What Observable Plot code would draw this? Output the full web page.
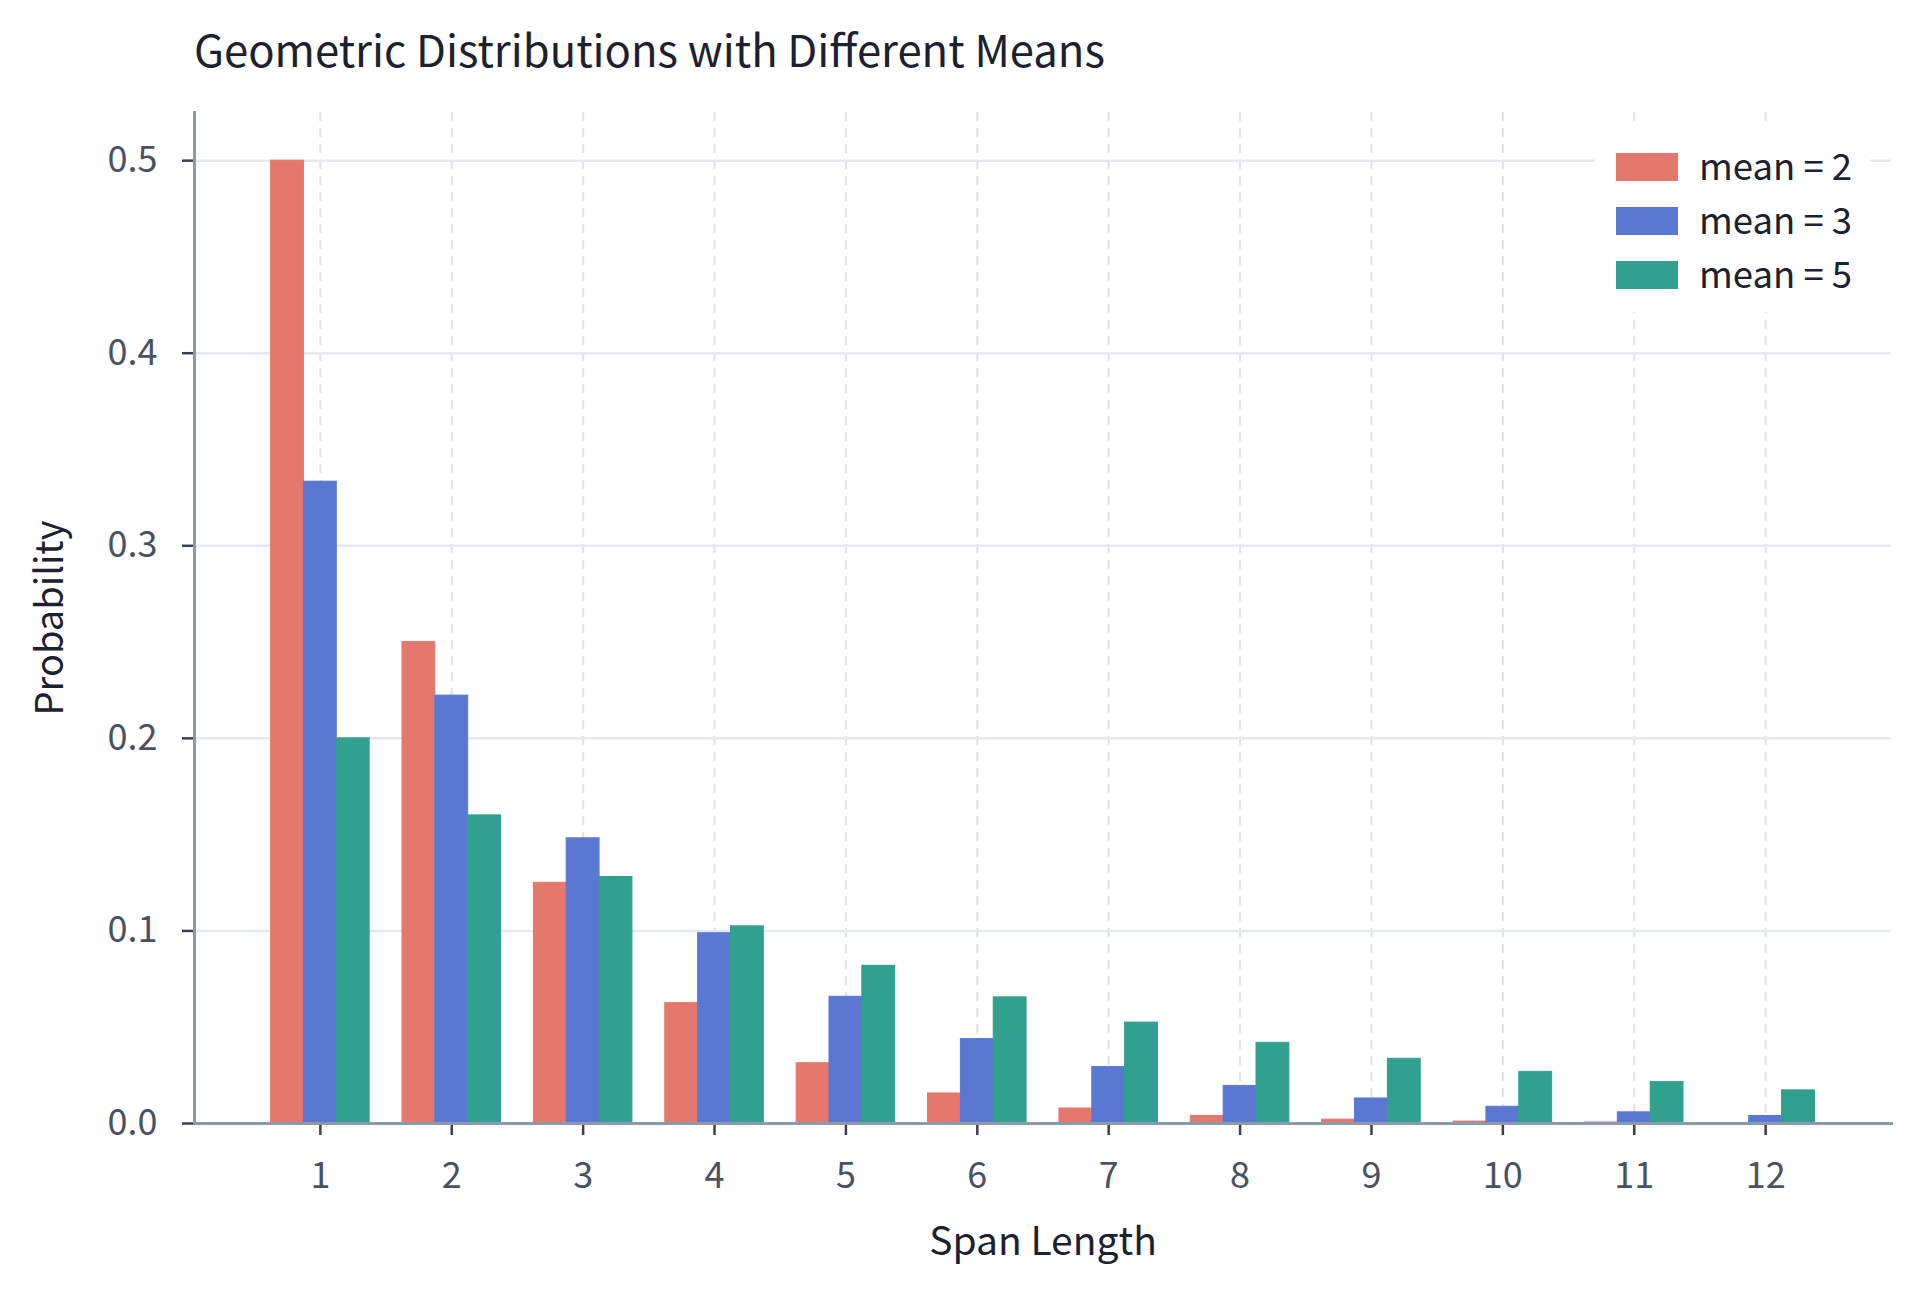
<!DOCTYPE html>
<html>
<head>
<meta charset="utf-8">
<script src="https://cdn.jsdelivr.net/npm/d3@7"></script>
<script src="https://cdn.jsdelivr.net/npm/@observablehq/plot@0.6"></script>
<style>
  html, body { margin: 0; padding: 0; background: #fff; }
  #wrap { position: relative; width: 1920px; height: 1292px; font-family: "Noto Sans CJK KR", "Noto Sans", sans-serif; }
  #title { position: absolute; left: 194px; top: 23px; font-size: 43.6px; line-height: 50px; color: #1c2130; white-space: nowrap; }
  #chart { position: absolute; left: 0; top: 100px; }
  #legend { position: absolute; left: 1595px; top: 127px; width: 275px; height: 185px; background: #fff; }
  .row { position: absolute; left: 21px; height: 40px; display: flex; align-items: center; }
  .sw { width: 62px; height: 28px; margin-right: 21px; }
  .lab { font-size: 36.5px; color: #1c2130; white-space: nowrap; position: relative; top: -2.5px; }
</style>
</head>
<body>
<div id="wrap">
  <div id="title">Geometric Distributions with Different Means</div>
  <div id="chart"></div>
  <div id="legend"></div>
</div>
<script>
const spans = [1, 2, 3, 4, 5, 6, 7, 8, 9, 10, 11, 12];
const seriesNames = ["mean = 2", "mean = 3", "mean = 5"];
const seriesColors = ["#e5786d", "#5a78d2", "#31a08f"];
const mean2 = [0.5, 0.25, 0.125, 0.0625, 0.0313, 0.0156, 0.0078, 0.0039, 0.002, 0.001, 0.0005, 0.0002];
const mean3 = [0.3333, 0.2222, 0.1481, 0.0988, 0.0658, 0.0439, 0.0293, 0.0195, 0.013, 0.0087, 0.0058, 0.0039];
const mean5 = [0.2, 0.16, 0.128, 0.1024, 0.0819, 0.0655, 0.0524, 0.0419, 0.0336, 0.0268, 0.0215, 0.0172];
const yTicks = [0, 0.1, 0.2, 0.3, 0.4, 0.5];

const seriesValues = [mean2, mean3, mean5];
const data = [];
spans.forEach((s, i) => {
  seriesNames.forEach((name, j) => data.push({span: s, series: name, p: seriesValues[j][i]}));
});

const W = 1920, H = 1192, ML = 194, MR = 29, MT = 12, MB = 169;
const padInner = 0.25, padOuter = 0.583;
const step = (W - ML - MR) / (spans.length - padInner + 2 * padOuter);
const bw = step * (1 - padInner);
const sub = bw / seriesNames.length;

const barMarks = seriesNames.map((name, j) =>
  Plot.barY(data.filter(d => d.series === name), {
    x: "span", y: "p", fill: "series", stroke: "series", strokeWidth: 1,
    insetLeft: j * sub, insetRight: (seriesNames.length - 1 - j) * sub
  })
);

const chart = Plot.plot({
  width: W,
  height: H,
  marginLeft: ML,
  marginRight: MR,
  marginTop: MT,
  marginBottom: MB,
  style: {fontFamily: '"Noto Sans CJK KR", "Noto Sans", sans-serif', background: "transparent"},
  x: {type: "band", domain: spans, paddingInner: padInner, paddingOuter: padOuter, round: false},
  y: {domain: [0, 0.525]},
  color: {domain: seriesNames, range: seriesColors},
  marks: [
    Plot.ruleX(spans, {x: d => d, stroke: "#dfe3e8", strokeWidth: 2, strokeDasharray: "9,7"}),
    Plot.ruleY(yTicks, {stroke: "#e6e9ed", strokeWidth: 2.5}),
    ...barMarks,
    Plot.axisY({ticks: yTicks, tickFormat: d3.format(".1f"), tickSize: 12, tickPadding: 25,
      fontSize: 36, color: "#4a5262", stroke: "#3a4050", strokeWidth: 2.5, strokeOpacity: 1,
      label: "Probability", labelAnchor: "center", labelArrow: "none", labelOffset: 158}),
    Plot.axisX({tickSize: 12, tickPadding: 27, fontSize: 36, color: "#4a5262", stroke: "#3a4050", strokeWidth: 2.5, strokeOpacity: 1,
      label: "Span Length", labelAnchor: "center", labelArrow: "none", labelOffset: 131}),
    Plot.frame({anchor: "left", stroke: "#8c9aad", strokeWidth: 3, strokeOpacity: 1}),
    Plot.frame({anchor: "bottom", stroke: "#8c9aad", strokeWidth: 3, strokeOpacity: 1})
  ]
});
document.getElementById("chart").appendChild(chart);

chart.querySelectorAll("g[aria-label='y-axis label'] text").forEach(t => {
  t.setAttribute("fill", "#1c2130");
  t.setAttribute("font-size", "38");
});
chart.querySelectorAll("g[aria-label='x-axis label'] text").forEach(t => {
  t.setAttribute("fill", "#1c2130");
  t.setAttribute("font-size", "39");
});

const legend = document.getElementById("legend");
seriesNames.forEach((name, i) => {
  const row = document.createElement("div");
  row.className = "row";
  row.style.top = (20 + i * 54) + "px";
  row.innerHTML = `<div class="sw" style="background:${seriesColors[i]}"></div><div class="lab">${name}</div>`;
  legend.appendChild(row);
});
</script>
</body>
</html>
